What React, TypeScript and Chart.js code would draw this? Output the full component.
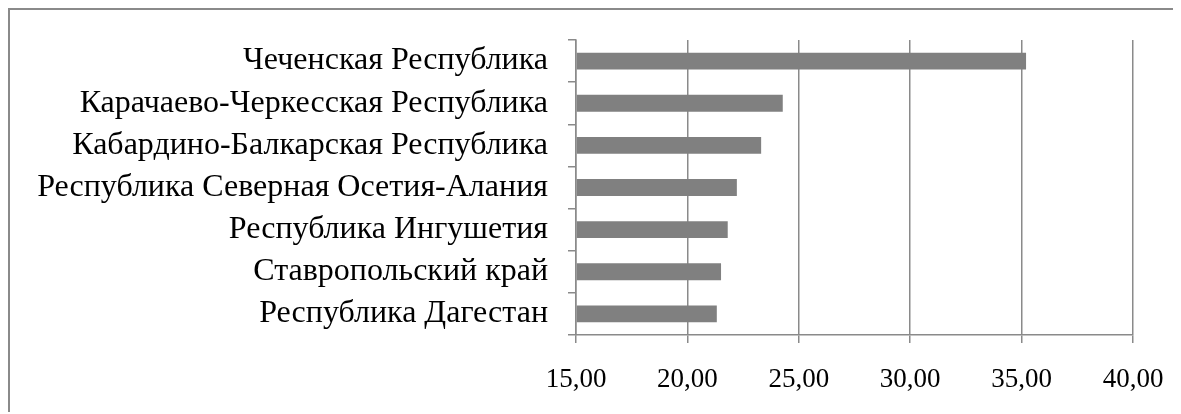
import React, { useEffect, useRef } from "react";
import { Chart, registerables } from "chart.js";

Chart.register(...registerables);

const categories = [
  "Чеченская Республика",
  "Карачаево-Черкесская Республика",
  "Кабардино-Балкарская Республика",
  "Республика Северная Осетия-Алания",
  "Республика Ингушетия",
  "Ставропольский край",
  "Республика Дагестан",
];
const values = [35.2, 24.28, 23.31, 22.22, 21.81, 21.51, 21.32];
const xMin = 15;
const xMax = 40;
const xStep = 5;

const FONT = "'Liberation Serif', 'Times New Roman', serif";
const GRID = "#8a8a8a";

export default function App() {
  const ref = useRef<HTMLCanvasElement>(null);
  useEffect(() => {
    const ctx = ref.current!;
    const chart = new Chart(ctx, {
      type: "bar",
      data: {
        labels: categories,
        datasets: [
          {
            data: values,
            backgroundColor: "#808080",
            borderWidth: 0,
            barPercentage: 0.4,
            categoryPercentage: 1,
            base: xMin,
          },
        ],
      },
      options: {
        indexAxis: "y",
        animation: false,
        responsive: false,
        devicePixelRatio: 1,
        layout: { padding: { top: 30, right: 48, bottom: 0, left: 0 } },
        plugins: { legend: { display: false }, tooltip: { enabled: false } },
        scales: {
          x: {
            min: xMin,
            max: xMax,
            ticks: {
              stepSize: xStep,
              color: "#000",
              font: { family: FONT, size: 27 },
              padding: 21,
              maxRotation: 0,
              autoSkip: false,
              callback: (v: any) => Number(v).toFixed(2).replace(".", ","),
            },
            grid: { color: GRID, lineWidth: 1.5, tickLength: 8 },
            border: { color: GRID, width: 1.5 },
            afterFit: (s: any) => {
              s.height = 77;
              s.paddingLeft = 0;
              s.paddingRight = 0;
            },
          },
          y: {
            ticks: {
              color: "#000",
              font: { family: FONT, size: 32 },
              padding: 20,
              autoSkip: false,
            },
            grid: {
              drawOnChartArea: false,
              drawTicks: true,
              tickLength: 8,
              color: GRID,
              lineWidth: 1.5,
              offset: true,
            },
            border: { color: GRID, width: 1.5 },
            afterFit: (s: any) => {
              s.width = 566;
              s.paddingTop = 0;
              s.paddingBottom = 0;
            },
          },
        },
      },
    });
    return () => chart.destroy();
  }, []);
  return (
    <div
      style={{
        borderLeft: "2px solid #8a8a8a",
        borderTop: "2px solid #8a8a8a",
        width: 1171,
        height: 402,
        overflow: "hidden",
      }}
    >
      <canvas ref={ref} width={1171} height={402} style={{ display: "block" }} />
    </div>
  );
}
